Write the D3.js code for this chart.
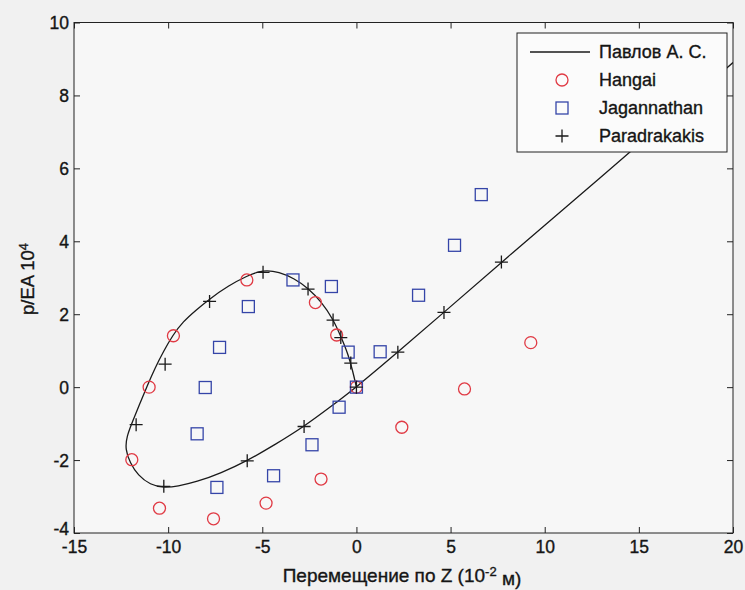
<!DOCTYPE html>
<html><head><meta charset="utf-8">
<script src="https://cdn.jsdelivr.net/npm/d3@7"></script>
<style>
html,body{margin:0;padding:0;background:#f1f1f1;}
svg{display:block;font-family:"Liberation Sans",Arial,sans-serif;}
</style></head>
<body>
<svg id="c" width="745" height="590"></svg>
<script>
// Series: Павлов А. С. (solid curve), traced from the ray down to the origin, then around the loop
const pavlovX = [20, 14.36, 7.7, 4.65, 2.2, 0, -1.4, -2.78, -4.3, -5.8, -7.2, -8.5, -9.5, -10.23, -10.95, -11.6, -12.02, -12.28, -12.2, -11.9, -11.5, -11.1, -10.7, -10.25, -9.75, -9.2, -8.55, -7.8, -6.8, -5.82, -4.96, -4.1, -3.3, -2.57, -1.86, -1.24, -0.8, -0.44, -0.2, 0];
const pavlovY = [8.9, 6.36, 3.43, 2.05, 0.96, 0, -0.55, -1.08, -1.57, -2.02, -2.36, -2.6, -2.72, -2.76, -2.68, -2.42, -2.08, -1.7, -1.35, -0.95, -0.45, 0.05, 0.52, 0.98, 1.43, 1.8, 2.1, 2.42, 2.78, 3.05, 3.22, 3.16, 2.98, 2.72, 2.34, 1.87, 1.36, 0.9, 0.45, 0];
// Hangai (red circles)
const hangaiX = [-5.82, -2.18, -1.05, -9.72, -11.01, -11.93, -10.46, -7.59, -4.8, -1.88, 9.26, 5.74, 2.41, 0];
const hangaiY = [2.94, 2.32, 1.43, 1.41, 0.0, -1.99, -3.32, -3.61, -3.18, -2.52, 1.22, -0.05, -1.1, 0];
// Jagannathan (blue squares)
const jagX = [-3.37, -1.33, -5.74, -7.27, -0.44, 1.26, -8.03, 0, -0.92, -8.46, -2.36, -4.4, -7.41, 3.3, 5.21, 6.63];
const jagY = [2.94, 2.76, 2.21, 1.09, 0.96, 0.97, -0.01, 0, -0.55, -1.28, -1.58, -2.43, -2.75, 2.52, 3.89, 5.28];
// Paradrakakis (black plus)
const parX = [-4.96, -7.8, -2.57, -1.24, -0.83, -0.3, -10.16, -11.7, -10.23, -5.8, -2.78, 2.2, 4.65, 7.7, 0];
const parY = [3.15, 2.35, 2.69, 1.84, 1.36, 0.66, 0.63, -1.03, -2.72, -2.02, -1.08, 0.96, 2.05, 3.43, 0];
// Axis ticks
const xTicks = [-15, -10, -5, 0, 5, 10, 15, 20];
const yTicks = [-4, -2, 0, 2, 4, 6, 8, 10];
const legendLabels = ["Павлов А. С.", "Hangai", "Jagannathan", "Paradrakakis"];

const svg = d3.select("#c");
const L = 74, R = 733, T = 22.5, B = 533;
const x = d3.scaleLinear().domain([-15, 20]).range([L, R]);
const y = d3.scaleLinear().domain([-4, 10]).range([B, T]);
const ink = "#151515";
const thick = sel => sel.attr("stroke", ink).attr("stroke-width", 0.35);

svg.append("rect").attr("x", L).attr("y", T).attr("width", R - L).attr("height", B - T).attr("fill", "#f7f7f7");

svg.append("clipPath").attr("id", "pc").append("rect")
  .attr("x", L).attr("y", T).attr("width", R - L).attr("height", B - T);

const tickLen = 6;
const fmt = d => String(d);
const gx = svg.append("g").attr("transform", `translate(0,${B})`)
  .call(d3.axisBottom(x).tickValues(xTicks).tickSizeInner(-tickLen).tickSizeOuter(0).tickPadding(5).tickFormat(fmt));
const gxt = svg.append("g").attr("transform", `translate(0,${T})`)
  .call(d3.axisTop(x).tickValues(xTicks).tickSizeInner(-tickLen).tickSizeOuter(0).tickFormat(""));
const gy = svg.append("g").attr("transform", `translate(${L},0)`)
  .call(d3.axisLeft(y).tickValues(yTicks).tickSizeInner(-tickLen).tickSizeOuter(0).tickPadding(5).tickFormat(fmt));
const gyr = svg.append("g").attr("transform", `translate(${R},0)`)
  .call(d3.axisRight(y).tickValues(yTicks).tickSizeInner(-tickLen).tickSizeOuter(0).tickFormat(""));
[gx, gxt, gy, gyr].forEach(g => {
  g.select(".domain").remove();
  g.selectAll("line").attr("stroke", "#222").attr("stroke-width", 1);
  g.selectAll("text").attr("fill", ink).style("font-size", "17.5px").style("font-family", "Liberation Sans, Arial, sans-serif").call(thick);
});
gx.selectAll("text").attr("dy", "0.85em");
gy.selectAll("text").attr("dy", "0.35em");
gy.selectAll(".tick").filter(d => d === -4).select("text").attr("dy", "0.1em");

svg.append("rect").attr("x", L).attr("y", T).attr("width", R - L).attr("height", B - T)
  .attr("fill", "none").attr("stroke", "#222").attr("stroke-width", 1);

const plot = svg.append("g").attr("clip-path", "url(#pc)");

const pts = pavlovX.map((v, i) => [v, pavlovY[i]]);
plot.append("path").datum(pts)
  .attr("d", d3.line().x(d => x(d[0])).y(d => y(d[1])).curve(d3.curveBasis))
  .attr("fill", "none").attr("stroke", "#1a1a1a").attr("stroke-width", 1.3);

const red = "#e03a44", blue = "#3545a8";
plot.selectAll(".hc").data(hangaiX.map((v, i) => [v, hangaiY[i]])).join("circle")
  .attr("cx", d => x(d[0])).attr("cy", d => y(d[1])).attr("r", 6)
  .attr("fill", "none").attr("stroke", red).attr("stroke-width", 1.3);
const s = 12;
plot.selectAll(".js").data(jagX.map((v, i) => [v, jagY[i]])).join("rect")
  .attr("x", d => x(d[0]) - s / 2).attr("y", d => y(d[1]) - s / 2).attr("width", s).attr("height", s)
  .attr("fill", "none").attr("stroke", blue).attr("stroke-width", 1.3);
const p = 6.5;
plot.selectAll(".pp").data(parX.map((v, i) => [v, parY[i]])).join("path")
  .attr("d", d => { const cx = x(d[0]), cy = y(d[1]); return `M${cx - p},${cy}H${cx + p}M${cx},${cy - p}V${cy + p}`; })
  .attr("fill", "none").attr("stroke", "#1a1a1a").attr("stroke-width", 1.3);

// legend
const lg = svg.append("g");
lg.append("rect").attr("x", 517).attr("y", 33).attr("width", 210).attr("height", 119)
  .attr("fill", "#fbfbfb").attr("stroke", "#222").attr("stroke-width", 1);
const rowY = [52, 80, 108, 136];
legendLabels.forEach((t, i) => {
  lg.append("text").attr("x", 599).attr("y", rowY[i]).attr("dy", "0.35em")
    .style("font-size", "18px").attr("fill", ink).call(thick).text(t);
});
lg.append("line").attr("x1", 530).attr("x2", 590).attr("y1", rowY[0]).attr("y2", rowY[0]).attr("stroke", "#1a1a1a").attr("stroke-width", 1.3);
lg.append("circle").attr("cx", 562).attr("cy", rowY[1]).attr("r", 6).attr("fill", "none").attr("stroke", red).attr("stroke-width", 1.3);
lg.append("rect").attr("x", 562 - s / 2).attr("y", rowY[2] - s / 2).attr("width", s).attr("height", s).attr("fill", "none").attr("stroke", blue).attr("stroke-width", 1.3);
lg.append("path").attr("d", `M${562 - p},${rowY[3]}H${562 + p}M562,${rowY[3] - p}V${rowY[3] + p}`).attr("stroke", "#1a1a1a").attr("stroke-width", 1.3);

// axis titles
const xt = svg.append("text").attr("x", 402).attr("y", 582).attr("text-anchor", "middle")
  .style("font-size", "19px").attr("fill", ink).call(thick);
xt.append("tspan").text("Перемещение по Z (10");
xt.append("tspan").attr("dy", "-0.45em").style("font-size", "13px").text("-2");
xt.append("tspan").attr("dy", "0.45em").text(" м)");

const yt = svg.append("text").attr("transform", `translate(34,279) rotate(-90)`).attr("text-anchor", "middle")
  .style("font-size", "18.5px").attr("fill", ink).call(thick);
yt.append("tspan").text("p/EA 10");
yt.append("tspan").attr("dy", "-0.45em").style("font-size", "13px").text("4");
</script>
</body></html>
